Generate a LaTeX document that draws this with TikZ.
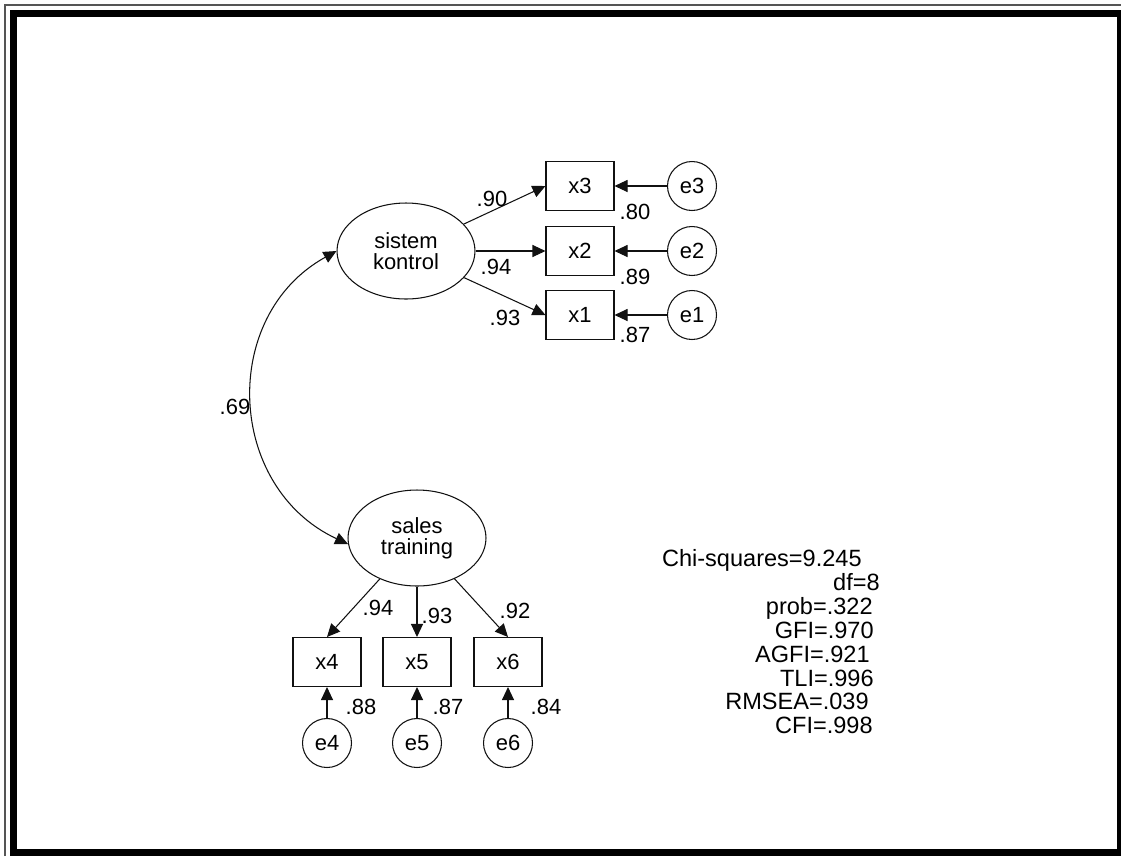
\documentclass[tikz,border=0pt]{standalone}
\usepackage{fontspec}
\setmainfont{Liberation Sans}
\usepackage{tikz}
\usetikzlibrary{arrows.meta,positioning,shapes.geometric}
\definecolor{ink}{HTML}{111111}
\definecolor{framegray}{HTML}{555555}
\tikzset{
  lat/.style={draw=ink, ellipse, line width=.6pt, minimum width=2.76cm, minimum height=1.92cm, inner sep=0pt, align=center, font=\fontsize{12.5}{11.8}\selectfont},
  obs/.style={draw=ink, line width=.6pt, minimum width=1.36cm, minimum height=.98cm, inner sep=0pt, font=\fontsize{12.5}{14}\selectfont},
  err/.style={draw=ink, circle, line width=.6pt, minimum size=.98cm, inner sep=0pt, font=\fontsize{12.5}{14}\selectfont},
  ar/.style={-{Triangle[length=2.6mm,width=2.4mm]}, line width=.6pt, draw=ink},
  cov/.style={{Triangle[length=2.6mm,width=2.4mm]}-{Triangle[length=2.6mm,width=2.4mm]}, line width=.6pt, draw=ink},
  lbl/.style={font=\fontsize{12.5}{14}\selectfont, inner sep=0pt},
  fitl/.style={font=\fontsize{13.4}{16}\selectfont, inner sep=0pt, anchor=base east},
}
\begin{document}
\begin{tikzpicture}[x=.02cm, y=.02cm]
  \useasboundingbox (0,0) rectangle (1121,-856);
  \draw[framegray, line width=.6pt] (5,-856) -- (5,-5) -- (1121,-5);
  \draw[line width=4pt] (13.5,-13.5) rectangle (1120.5,-852.5);
  \node[lat] (sk) at (406,-251) {sistem\\kontrol};
  \node[lat] (st) at (417,-538) {sales\\training};
  \foreach \i/\y in {3/186,2/251,1/315}{
    \node[obs] (x\i) at (580,-\y) {x\i};
    \node[err] (e\i) at (692,-\y) {e\i};
    \draw[ar] (sk) -- (x\i.west);
    \draw[ar] (e\i) -- (x\i);
  }
  \foreach \i/\x in {4/327,5/417,6/508}{
    \node[obs] (x\i) at (\x,-662) {x\i};
    \node[err] (e\i) at (\x,-743) {e\i};
    \draw[ar] (st) -- (x\i.north);
    \draw[ar] (e\i) -- (x\i);
  }
  \draw[cov] (sk.west) to[out=209, in=155, looseness=1.17] (st.185);
  \foreach \t/\x/\y [count=\i] in {.90/492/199, .80/635/212, .94/496/267, .89/635/277, .93/505/318, .87/635/335, .69/235/407, .94/378/608, .93/437/616, .92/515/611, .88/361/707, .87/448/707, .84/546/707}
    \node[lbl] (w\i) at (\x,-\y) {\t};
  \foreach \t/\x/\y [count=\i] in {Chi-squares=9.245/862/566, df=8/880/590, prob=.322/873/614, GFI=.970/874/638, AGFI=.921/870/662, TLI=.996/874/686, RMSEA=.039/869/709, CFI=.998/873/733}
    \node[fitl] (fit\i) at (\x,-\y) {\t};
\end{tikzpicture}
\end{document}
